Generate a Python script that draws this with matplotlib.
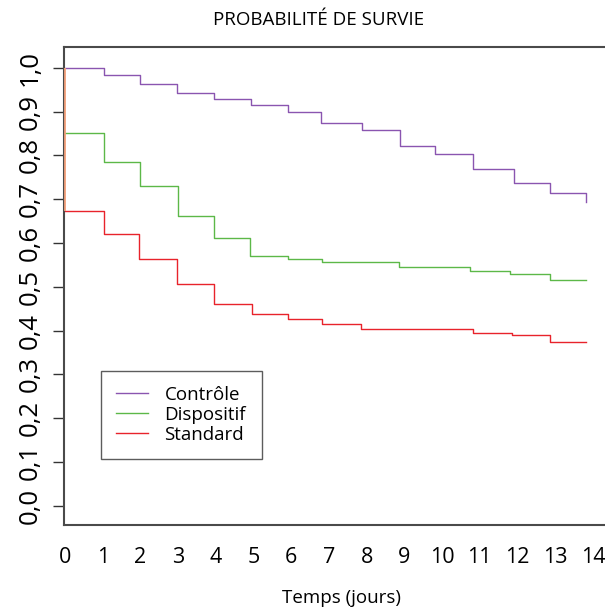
import matplotlib
matplotlib.use("Agg")
import matplotlib.pyplot as plt
import numpy as np

plt.rcParams['font.family'] = ['Open Sans', 'DejaVu Sans']

# Data
controle_t = [0, 1.03, 1.98, 2.97, 3.94, 4.93, 5.92, 6.80, 7.88, 8.89, 9.81, 10.81, 11.91, 12.87, 13.83]
controle_s = [1.000, 0.983, 0.963, 0.942, 0.929, 0.916, 0.899, 0.874, 0.857, 0.822, 0.804, 0.769, 0.738, 0.715, 0.694]

dispositif_t = [0, 1.03, 1.98, 3.00, 3.94, 4.91, 5.92, 6.83, 8.85, 10.75, 11.81, 12.86, 13.83]
dispositif_s = [0.850, 0.786, 0.729, 0.661, 0.611, 0.570, 0.563, 0.557, 0.546, 0.537, 0.529, 0.515, 0.515]

standard_t = [0, 1.03, 1.97, 2.98, 3.94, 4.96, 5.92, 6.82, 7.84, 10.83, 11.87, 12.87, 13.83]
standard_s = [0.672, 0.621, 0.563, 0.506, 0.460, 0.438, 0.427, 0.415, 0.404, 0.395, 0.389, 0.374, 0.374]

labels = ['Contrôle', 'Dispositif', 'Standard']
colors = ['#8a55b0', '#5cb848', '#e8232b']
start_color = '#f3a07a'

x_ticks = list(range(0, 15))
y_ticks = [0.0, 0.1, 0.2, 0.3, 0.4, 0.5, 0.6, 0.7, 0.8, 0.9, 1.0]
y_ticklabels = ['0,0', '0,1', '0,2', '0,3', '0,4', '0,5', '0,6', '0,7', '0,8', '0,9', '1,0']

W, H = 605, 609
fig = plt.figure(figsize=(W / 100, H / 100), dpi=100)
left, right, top, bottom = 64, 607, 46.5, 525
ax = fig.add_axes([left / W, (H - bottom) / H, (right - left) / W, (bottom - top) / H])

series = [(controle_t, controle_s), (dispositif_t, dispositif_s), (standard_t, standard_s)]
for (t, s), lab, c in zip(series, labels, colors):
    ax.step(t, s, where='post', color=c, lw=1.0, label=lab)

# initial vertical drop at time 0
ax.vlines(0, min(standard_s[0], dispositif_s[0]), controle_s[0], color=start_color, lw=1.3, zorder=3)

px_per_unit = 37.7
x0 = -1 / px_per_unit
ax.set_xlim(x0, x0 + (right - left) / px_per_unit)
ax.set_ylim(-0.0434, 1.0484)

ax.set_xticks(x_ticks)
ax.set_xticklabels([str(v) for v in x_ticks], fontsize=15.5)
ax.tick_params(axis='x', length=0, pad=16)
ax.set_yticks(y_ticks)
ax.set_yticklabels(y_ticklabels, fontsize=18.5, rotation=90, va='center')
ax.tick_params(axis='y', length=8, width=1, color='#333333', pad=7)

for sp in ax.spines.values():
    sp.set_color('#4a4a4a')
    sp.set_linewidth(1.5)

fig.text(319 / W, 1 - 20 / H, 'PROBABILITÉ DE SURVIE', ha='center', va='center', fontsize=13.5)
fig.text(341 / W, 1 - 598 / H, 'Temps (jours)', ha='center', va='center', fontsize=13.5)

ax_w = right - left
ax_h = bottom - top
leg = ax.legend(loc='lower left',
                bbox_to_anchor=((100.7 - left) / ax_w, (bottom - 459) / ax_h, (262.3 - 100.7) / ax_w, (459 - 372.7) / ax_h),
                mode='expand', borderaxespad=0, fontsize=13.5, frameon=True, fancybox=False,
                handlelength=1.7, handletextpad=0.9, labelspacing=0.12, borderpad=0.8)
leg.get_frame().set_edgecolor('#333333')
leg.get_frame().set_linewidth(1.0)
for line in leg.get_lines():
    line.set_linewidth(1.0)

fig.savefig('out.png', dpi=100)
